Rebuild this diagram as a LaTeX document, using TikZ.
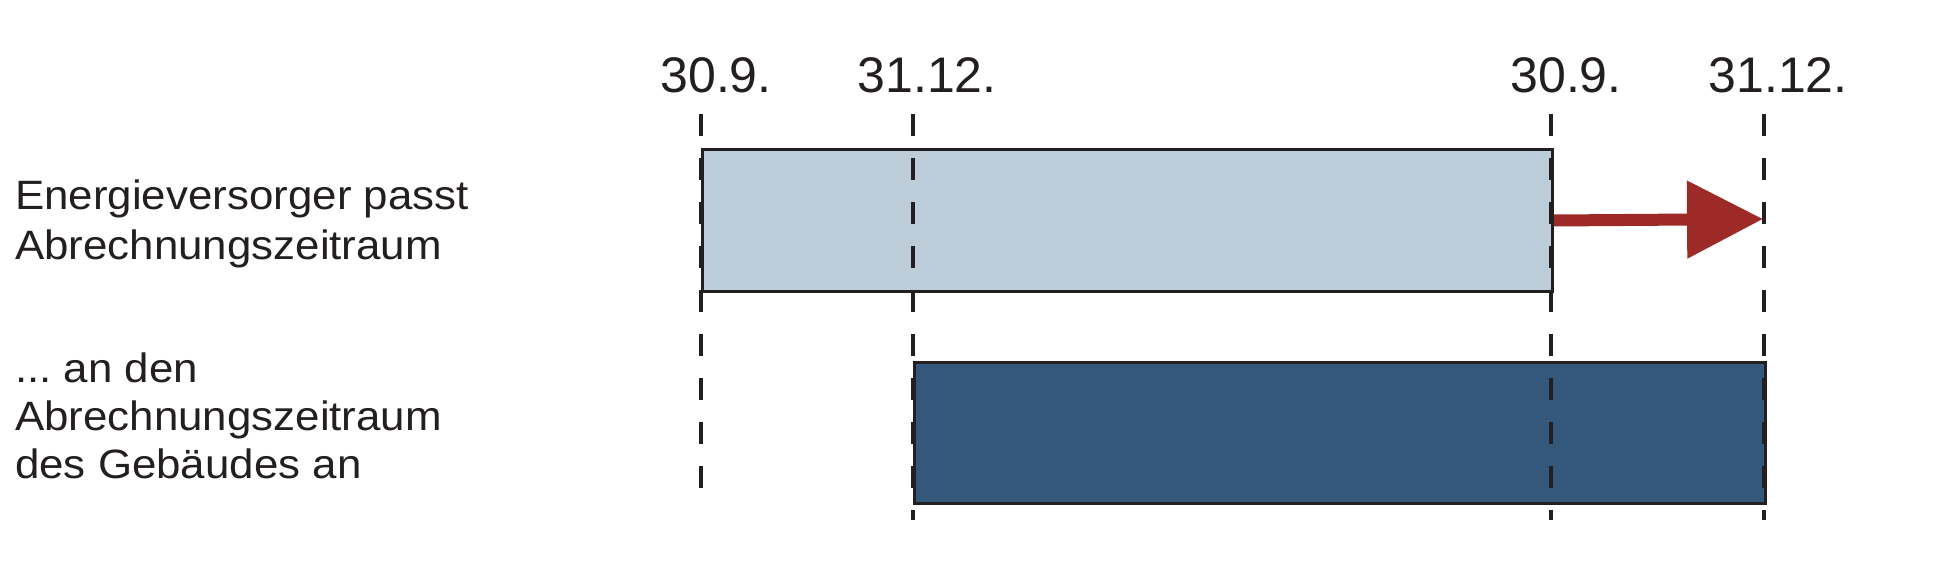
\documentclass[tikz,border=0pt]{standalone}
\usepackage{fontspec}
\setmainfont{Liberation Sans}
\newfontfamily\lefttext[FakeStretch=1.07]{Liberation Sans}
\usetikzlibrary{arrows.meta}
\frenchspacing
\definecolor{lightbar}{HTML}{BCCCD9}
\definecolor{darkbar}{HTML}{34577C}
\definecolor{arrowred}{HTML}{9E2A28}
\definecolor{ink}{HTML}{231F20}
\tikzset{
  bar/.style={draw=ink, line width=3pt, inner sep=0pt, anchor=north west},
  dashline/.style={draw=ink, line width=4pt, dash pattern=on 22pt off 22pt},
  datelabel/.style={text=ink, inner sep=0pt, anchor=base, font=\fontsize{50}{60}\selectfont},
  sidelabel/.style={text=ink, inner sep=0pt, anchor=north west, align=left},
  shiftarrow/.style={draw=arrowred, line width=12pt, -{Triangle[length=76pt,width=75pt]}}
}
\begin{document}
\begin{tikzpicture}[x=1pt,y=-1pt]
\useasboundingbox (0,0) rectangle (1950,572);
% bars
\node[bar, fill=lightbar, minimum width=850pt, minimum height=142pt] (r1) at (701,148) {};
\node[bar, fill=darkbar, minimum width=851pt, minimum height=141pt] (r2) at (913,361) {};
% arrow
\coordinate (tip) at (1763,219);
\draw[shiftarrow] (r1.east) -- (tip);
% dashed lines
\coordinate (t1) at (701,114); \coordinate (b1) at (701,489);
\coordinate (t2) at (913,114); \coordinate (b2) at (913,520);
\coordinate (t3) at (1551,114); \coordinate (b3) at (1551,520);
\coordinate (t4) at (1764,114); \coordinate (b4) at (1764,520);
\draw[dashline] (t1) -- (b1);
\draw[dashline] (t2) -- (b2);
\draw[dashline] (t3) -- (b3);
\draw[dashline] (t4) -- (b4);
% date labels
\node[datelabel] (d1) at (716,93) {30.9.};
\node[datelabel] (d2) at (927,93) {31.12.};
\node[datelabel] (d3) at (1566,93) {30.9.};
\node[datelabel] (d4) at (1778,93) {31.12.};
% side labels
\node[sidelabel, font=\lefttext\fontsize{41}{50}\selectfont\frenchspacing] (s1) at (15,179.5) {Energieversorger passt\\Abrechnungszeitraum};
\node[sidelabel, font=\lefttext\fontsize{41}{48}\selectfont\frenchspacing] (s2) at (15,352.5) {... an den\\Abrechnungszeitraum\\des Gebäudes an};
\end{tikzpicture}
\end{document}
